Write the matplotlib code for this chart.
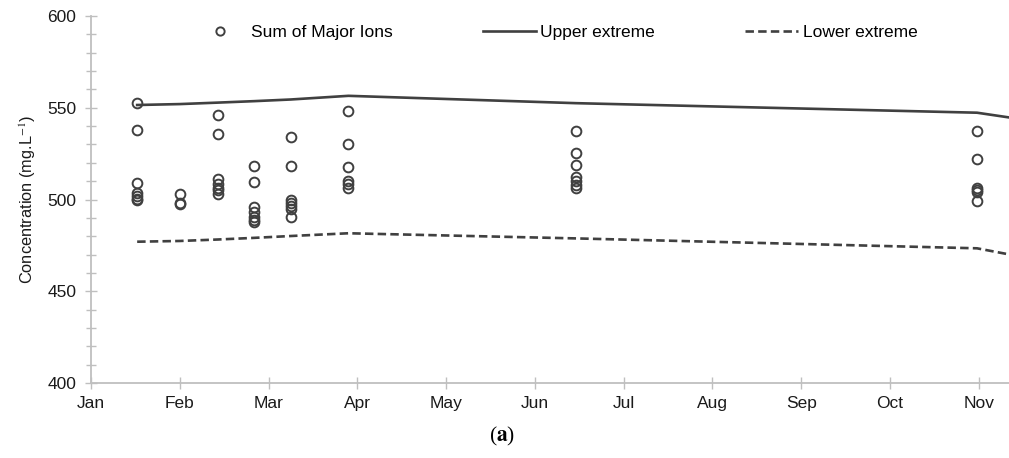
import matplotlib
matplotlib.use("Agg")
import matplotlib.pyplot as plt
from matplotlib.ticker import MultipleLocator

plt.rcParams["font.family"] = ["Liberation Sans", "DejaVu Sans"]
plt.rcParams["mathtext.fontset"] = "stix"

months = ["Jan", "Feb", "Mar", "Apr", "May", "Jun", "Jul", "Aug", "Sep", "Oct", "Nov"]

# sampling dates as month offsets from 1 Jan
dates = [0.52, 1.0, 1.43, 1.84, 2.25, 2.9, 5.46, 9.98]
ions = [
    [552.5, 538, 509, 503.5, 502, 500.5, 500],
    [503, 498, 497.5],
    [546, 535.5, 511, 508.5, 506, 505, 503],
    [518.5, 509.5, 496, 493, 490.5, 489, 488],
    [534, 518, 499.5, 498, 496.5, 495, 490.5],
    [548, 530.5, 517.5, 510, 508.5, 506],
    [537.5, 525.5, 519, 512, 510, 508, 506],
    [537.5, 522, 506.5, 505, 504, 499],
]

line_dates = [0.52, 1.0, 1.43, 1.84, 2.25, 2.9, 5.46, 9.98, 11.0]
upper = [551.5, 552, 552.8, 553.6, 554.5, 556.5, 552.5, 547.3, 540]
lower = [477, 477.4, 478.2, 479.1, 480.1, 481.6, 478.8, 473.4, 464]

grey = "#404040"
axis_grey = "#bfbfbf"

fig = plt.figure(figsize=(10.09, 4.58), dpi=100)
ax = fig.add_axes([91 / 1009, 1 - 383 / 458, 1 - 91 / 1009, (383 - 16) / 458])

xs = []
ys = []
for d, vals in zip(dates, ions):
    for v in vals:
        xs.append(d)
        ys.append(v)

ax.plot(xs, ys, "o", ms=7, mfc="none", mec=grey, mew=1.4, ls="none",
        label="Sum of Major Ions", zorder=3)
ax.plot(line_dates, upper, "-", color=grey, lw=1.9, label="Upper extreme")
ax.plot(line_dates, lower, "--", color=grey, lw=1.9, dashes=(3.2, 1.6),
        label="Lower extreme")

ax.set_xlim(0, 10.34)
ax.set_ylim(400, 600)
ax.set_xticks(range(len(months)))
ax.set_xticklabels(months)
ax.yaxis.set_major_locator(MultipleLocator(50))
ax.yaxis.set_minor_locator(MultipleLocator(10))

for s in ["top", "right"]:
    ax.spines[s].set_visible(False)
for s in ["left", "bottom"]:
    ax.spines[s].set_color(axis_grey)
    ax.spines[s].set_linewidth(1.3)

ax.tick_params(axis="both", which="both", direction="inout", color=axis_grey,
               width=1.0, labelsize=12.5, labelcolor="#1a1a1a")
ax.tick_params(axis="x", length=9, pad=5)
ax.tick_params(axis="y", which="major", length=9, pad=6)
ax.tick_params(axis="y", which="minor", length=7)

ax.set_ylabel("Concentration (mg.L$^{-1}$)", fontsize=11.8, color="#1a1a1a", labelpad=7)

leg = ax.legend(loc="center left", bbox_to_anchor=(185 / 1009, 1 - 32 / 458),
                bbox_transform=fig.transFigure, ncol=3, frameon=False, borderpad=0,
                fontsize=12.5, handlelength=3.05, columnspacing=5.2, handletextpad=0.25,
                markerscale=0.85)

fig.text(0.498, 0.022, r"($\mathbf{a}$)", ha="center", va="bottom", fontsize=15.5,
         family="Liberation Serif")

fig.savefig("out.png", dpi=100)
